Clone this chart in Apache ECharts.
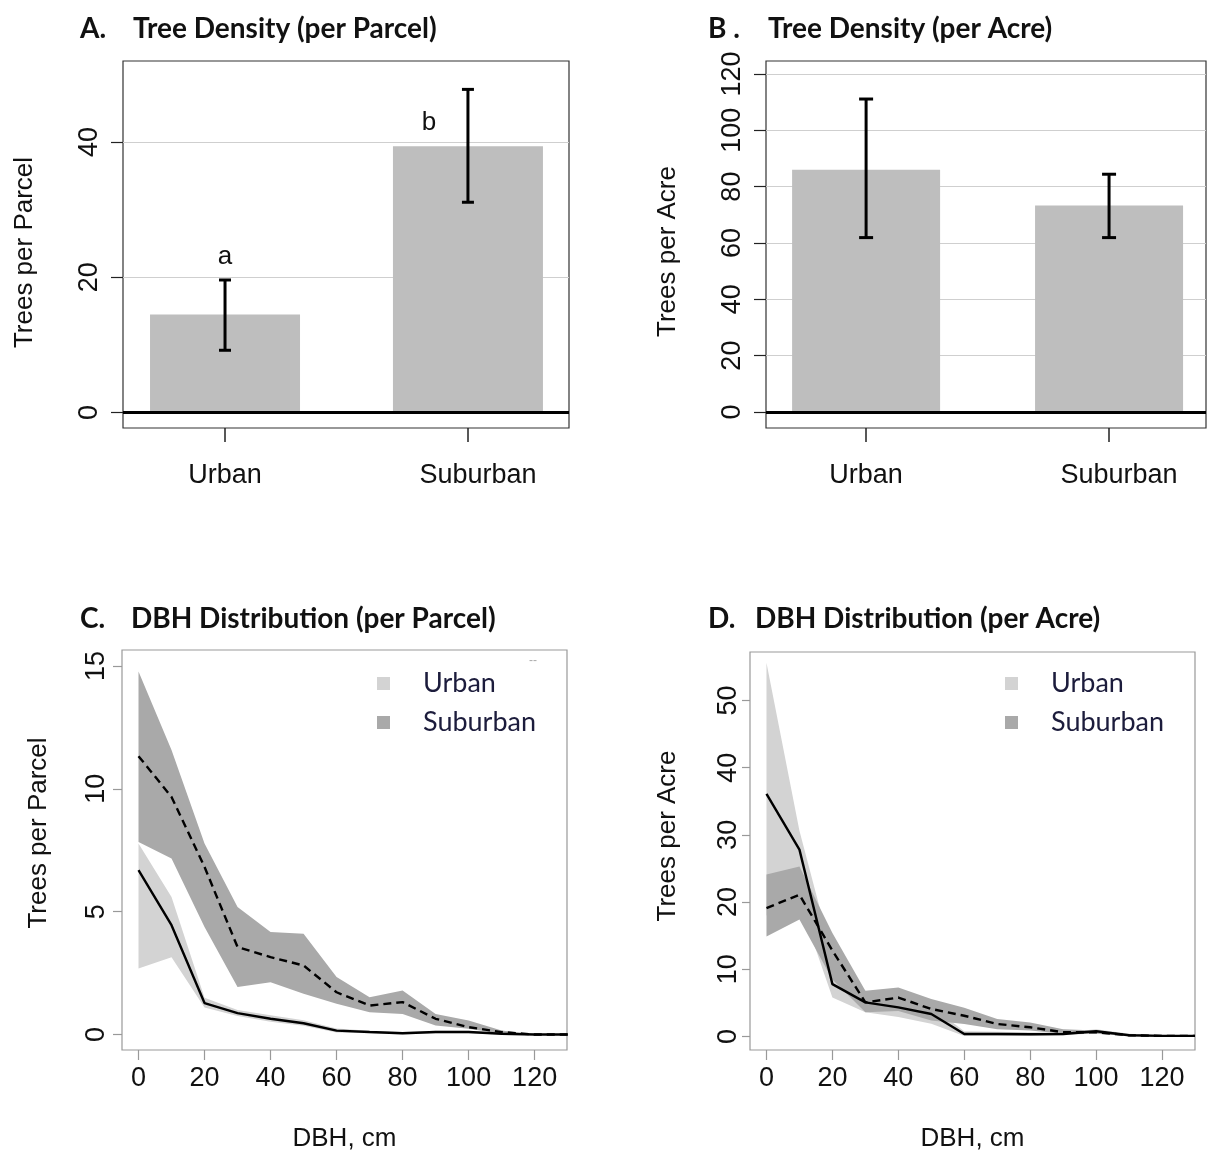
<!DOCTYPE html>
<html>
<head>
<meta charset="utf-8">
<script src="https://cdn.jsdelivr.net/npm/echarts@6/dist/echarts.min.js"></script>
<style>
  html, body { margin: 0; padding: 0; background: #fff; }
  #chart { width: 1207px; height: 1156px; }
</style>
</head>
<body>
<div id="chart"></div>
<script>
// ---- Panels A and B: mean tree density by site type (with 95% CI) ----
const sites = ['Urban', 'Suburban'];
const parcelMean = [14.5, 39.4];
const parcelLow = [9.2, 31.1];
const parcelHigh = [19.6, 47.8];
const acreMean = [86.0, 73.3];
const acreLow = [61.9, 61.9];
const acreHigh = [111.1, 84.4];
const parcelLetters = ['a', 'b'];
const parcelLetterAt = [[1, 23.0], [1.84, 42.8]];
const parcelTicks = [0, 20, 40];
const acreTicks = [0, 20, 40, 60, 80, 100, 120];

// ---- Panels C and D: DBH size-class distributions ----
const dbh = [0, 10, 20, 30, 40, 50, 60, 70, 80, 90, 100, 110, 120, 130];
const dbhTicks = [0, 20, 40, 60, 80, 100, 120];

const parcelUrbanMean = [6.69, 4.45, 1.28, 0.87, 0.64, 0.46, 0.16, 0.10, 0.05, 0.10, 0.10, 0.03, 0, 0];
const parcelUrbanLow  = [2.69, 3.14, 1.10, 0.75, 0.52, 0.36, 0.08, 0.05, 0.00, 0.05, 0.05, 0.00, 0, 0];
const parcelUrbanHigh = [7.77, 5.60, 1.50, 1.00, 0.78, 0.58, 0.25, 0.15, 0.10, 0.15, 0.15, 0.06, 0, 0];
const parcelSubMean   = [11.33, 9.67, 6.82, 3.56, 3.15, 2.81, 1.72, 1.18, 1.32, 0.64, 0.30, 0.10, 0, 0];
const parcelSubLow    = [7.84, 7.16, 4.38, 1.93, 2.13, 1.66, 1.25, 0.91, 0.84, 0.37, 0.23, 0.03, 0, 0];
const parcelSubHigh   = [14.77, 11.58, 7.77, 5.19, 4.17, 4.10, 2.34, 1.52, 1.79, 0.84, 0.57, 0.16, 0, 0];
const dbhParcelTicks = [0, 5, 10, 15];

const acreUrbanMean = [36.1, 27.8, 7.8, 5.08, 4.34, 3.35, 0.39, 0.39, 0.34, 0.39, 0.79, 0.2, 0.1, 0.1];
const acreUrbanLow  = [18.0, 20.0, 5.8, 3.6, 2.9, 1.9, 0.1, 0.1, 0.1, 0.2, 0.5, 0.05, 0, 0];
const acreUrbanHigh = [55.6, 30.6, 12.0, 6.8, 5.5, 4.5, 0.8, 0.7, 0.6, 0.6, 1.1, 0.4, 0.2, 0.1];
const acreSubMean   = [19.1, 21.1, 12.8, 5.08, 5.8, 4.1, 3.1, 1.87, 1.38, 0.64, 0.64, 0.2, 0.1, 0.1];
const acreSubLow    = [14.9, 17.4, 8.5, 3.6, 3.8, 2.4, 1.87, 1.1, 0.9, 0.4, 0.4, 0.1, 0.1, 0.1];
const acreSubHigh   = [24.1, 25.3, 15.4, 6.8, 7.3, 5.6, 4.3, 2.6, 2.1, 1.1, 0.9, 0.3, 0.1, 0.1];
const dbhAcreTicks = [0, 10, 20, 30, 40, 50];

// ---- styling ----
const SANS = '"Liberation Sans", Arial, sans-serif';
const HEAD = 'Lato, "Open Sans", sans-serif';
const BAR_GRAY = '#bebebe';
const URBAN_FILL = '#d3d3d3';
const SUB_FILL = '#a9a9a9';
const tickText = { fontFamily: SANS, fontSize: 27, color: '#111' };
const nameText = { fontFamily: SANS, fontSize: 26, color: '#111' };

function panelTitle(left, top, key, keyWidth, text) {
  const base = { fontFamily: HEAD, fontWeight: 'bold', fontSize: 28, color: '#111' };
  return {
    left, top, padding: 0,
    text: '{k|' + key + '}{t|' + text + '}',
    textStyle: { rich: { k: Object.assign({ width: keyWidth }, base), t: base } }
  };
}

function barXAxis(gridIndex, min, max) {
  return {
    type: 'value', gridIndex, min, max,
    axisLine: { show: false, onZero: false },
    axisTick: { show: true, customValues: [1, 2], length: 14, lineStyle: { color: '#222', width: 1.5 } },
    axisLabel: Object.assign({
      customValues: [1, 2], margin: 34,
      formatter: v => (Math.round(v) === 2 ? '{s|' + sites[1] + '}' : sites[Math.round(v) - 1]),
      rich: { s: Object.assign({ padding: [0, 0, 0, 20] }, tickText) }
    }, tickText),
    splitLine: { show: false }
  };
}

function valueYAxis(gridIndex, min, max, ticks, opts) {
  return {
    type: 'value', gridIndex, min, max,
    axisLine: { show: false, onZero: false },
    axisTick: { show: true, customValues: ticks, length: opts.tickLen, lineStyle: { color: opts.tickColor, width: 1.2 } },
    axisLabel: Object.assign({ customValues: ticks, rotate: 90, margin: opts.labelMargin }, tickText),
    splitLine: { show: false },
    name: opts.name, nameLocation: 'middle', nameRotate: 90, nameGap: opts.nameGap,
    nameTextStyle: Object.assign({ padding: opts.namePad || 0 }, nameText)
  };
}

function dbhXAxis(gridIndex, min, max) {
  return {
    type: 'value', gridIndex, min, max,
    axisLine: { show: false, onZero: false },
    axisTick: { show: true, customValues: dbhTicks, length: 10, lineStyle: { color: '#999', width: 1.2 } },
    axisLabel: Object.assign({ customValues: dbhTicks, margin: 15 }, tickText),
    splitLine: { show: false },
    name: 'DBH, cm', nameLocation: 'middle', nameGap: 76, nameTextStyle: nameText
  };
}

function barSeries(idx, means, ticks, width) {
  return {
    type: 'bar', xAxisIndex: idx, yAxisIndex: idx, z: 2, silent: true,
    barWidth: width,
    itemStyle: { color: BAR_GRAY },
    data: means.map((m, i) => [i + 1, m]),
    markLine: {
      z: 1, silent: true, symbol: 'none', animation: false,
      label: { show: false },
      lineStyle: { color: '#cfcfcf', width: 1, type: 'solid' },
      data: ticks.filter(v => v > 0).map(v => ({ yAxis: v }))
    }
  };
}

function errorSeries(idx, lows, highs, capHalf) {
  return {
    type: 'custom', xAxisIndex: idx, yAxisIndex: idx, z: 4, silent: true,
    data: lows.map((l, i) => [i + 1, l, highs[i]]),
    renderItem(params, api) {
      const x = api.value(0);
      const lo = api.coord([x, api.value(1)]);
      const hi = api.coord([x, api.value(2)]);
      const style = { stroke: '#000', lineWidth: 3 };
      return {
        type: 'group',
        children: [
          { type: 'line', shape: { x1: lo[0], y1: lo[1], x2: hi[0], y2: hi[1] }, style },
          { type: 'line', shape: { x1: lo[0] - capHalf, y1: lo[1], x2: lo[0] + capHalf, y2: lo[1] }, style },
          { type: 'line', shape: { x1: hi[0] - capHalf, y1: hi[1], x2: hi[0] + capHalf, y2: hi[1] }, style }
        ]
      };
    },
    markLine: {
      z: 6, silent: true, symbol: 'none', animation: false,
      label: { show: false },
      lineStyle: { color: '#000', width: 3, type: 'solid' },
      data: [{ yAxis: 0 }]
    }
  };
}

function bandSeries(name, idx, lows, highs, color) {
  return {
    name, type: 'custom', xAxisIndex: idx, yAxisIndex: idx, z: 2, silent: true, clip: true,
    itemStyle: { color },
    data: dbh.map((d, i) => [d, lows[i], highs[i]]),
    renderItem(params, api) {
      if (params.dataIndex !== 0) return null;
      const upper = dbh.map((d, i) => api.coord([d, highs[i]]));
      const lower = dbh.map((d, i) => api.coord([d, lows[i]])).reverse();
      return { type: 'polygon', shape: { points: upper.concat(lower) }, style: { fill: color } };
    }
  };
}

function meanLine(name, idx, values, dashed) {
  return {
    name, type: 'line', xAxisIndex: idx, yAxisIndex: idx, z: 3, silent: true, clip: true,
    showSymbol: false, symbol: 'none',
    lineStyle: { color: '#000', width: 2.4, type: dashed ? [8, 5] : 'solid' },
    data: dbh.map((d, i) => [d, values[i]])
  };
}

function dbhLegend(left, top) {
  return {
    left, top, orient: 'vertical', selectedMode: false, padding: 0,
    icon: 'rect', itemWidth: 13, itemHeight: 13, itemGap: 12,
    textStyle: { fontFamily: HEAD, fontSize: 27, color: '#1c1c3c', lineHeight: 27, padding: [0, 0, 0, 28] },
    data: ['Urban', 'Suburban']
  };
}

const option = {
  animation: false,
  backgroundColor: '#fff',
  title: [
    panelTitle(80, 15, 'A.', 53, 'Tree Density (per Parcel)'),
    panelTitle(708, 15, 'B .', 60, 'Tree Density (per Acre)'),
    panelTitle(80, 605, 'C.', 51, 'DBH Distribution (per Parcel)'),
    panelTitle(708, 605, 'D.', 47, 'DBH Distribution (per Acre)')
  ],
  legend: [dbhLegend(377, 670), dbhLegend(1005, 670)],
  grid: [
    { left: 123, top: 61, width: 446, height: 367, show: true, borderColor: '#333', borderWidth: 1.2, backgroundColor: 'transparent' },
    { left: 766, top: 61, width: 440, height: 367, show: true, borderColor: '#333', borderWidth: 1.2, backgroundColor: 'transparent' },
    { left: 122, top: 650, width: 445, height: 400, show: true, borderColor: '#999', borderWidth: 1.2, backgroundColor: 'transparent' },
    { left: 750, top: 652, width: 445, height: 398, show: true, borderColor: '#999', borderWidth: 1.2, backgroundColor: 'transparent' }
  ],
  xAxis: [
    barXAxis(0, 0.580, 2.416),
    barXAxis(1, 0.588, 2.399),
    dbhXAxis(2, -5, 129.8),
    dbhXAxis(3, -5, 130)
  ],
  yAxis: [
    valueYAxis(0, -2.3, 52, parcelTicks, { tickLen: 12, tickColor: '#222', labelMargin: 20, name: 'Trees per Parcel', nameGap: 85, namePad: [0, 16, 0, 0] }),
    valueYAxis(1, -5.7, 124.6, acreTicks, { tickLen: 12, tickColor: '#222', labelMargin: 20, name: 'Trees per Acre', nameGap: 85, namePad: [0, 14, 0, 0] }),
    valueYAxis(2, -0.63, 15.65, dbhParcelTicks, { tickLen: 9, tickColor: '#999', labelMargin: 12, name: 'Trees per Parcel', nameGap: 70, namePad: [0, 0, 0, 34] }),
    valueYAxis(3, -2.0, 57.2, dbhAcreTicks, { tickLen: 8, tickColor: '#999', labelMargin: 8, name: 'Trees per Acre', nameGap: 69, namePad: [0, 0, 0, 30] })
  ],
  graphic: [
    { type: 'text', left: 529, top: 655, silent: true, style: { text: '--', fill: '#aaa', font: '12px ' + SANS } }
  ],
  series: [
    barSeries(0, parcelMean, parcelTicks, 150),
    errorSeries(0, parcelLow, parcelHigh, 6),
    {
      type: 'custom', xAxisIndex: 0, yAxisIndex: 0, z: 5, silent: true,
      data: parcelLetterAt.map((p, i) => [p[0], p[1], i]),
      renderItem(params, api) {
        const pt = api.coord([api.value(0), api.value(1)]);
        return {
          type: 'text', x: pt[0], y: pt[1],
          style: { text: parcelLetters[api.value(2)], fill: '#111', font: '26px ' + SANS, align: 'center', verticalAlign: 'middle' }
        };
      }
    },
    barSeries(1, acreMean, acreTicks, 148),
    errorSeries(1, acreLow, acreHigh, 7),

    bandSeries('Urban', 2, parcelUrbanLow, parcelUrbanHigh, URBAN_FILL),
    bandSeries('Suburban', 2, parcelSubLow, parcelSubHigh, SUB_FILL),
    meanLine('Urban mean', 2, parcelUrbanMean, false),
    meanLine('Suburban mean', 2, parcelSubMean, true),

    bandSeries('Urban', 3, acreUrbanLow, acreUrbanHigh, URBAN_FILL),
    bandSeries('Suburban', 3, acreSubLow, acreSubHigh, SUB_FILL),
    meanLine('Urban mean', 3, acreUrbanMean, false),
    meanLine('Suburban mean', 3, acreSubMean, true)
  ]
};

const chart = echarts.init(document.getElementById('chart'));
chart.setOption(option);
</script>
</body>
</html>
